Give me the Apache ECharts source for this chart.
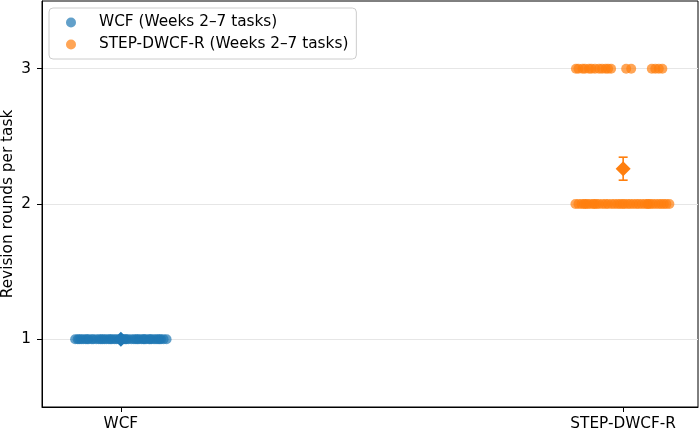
<!DOCTYPE html>
<html>
<head>
<meta charset="utf-8">
<title>Revision rounds per task</title>
<style>
    body { margin: 0; }
    #main { width: 700px; height: 434px; }
</style>
</head>
<body>
<div id="main"></div>
<script src="https://cdn.jsdelivr.net/npm/echarts@6/dist/echarts.min.js"></script>
<script>
    var groups = ['WCF', 'STEP-DWCF-R'];
    var legendNames = ['WCF (Weeks 2–7 tasks)', 'STEP-DWCF-R (Weeks 2–7 tasks)'];
    var colors = ['#1f77b4', '#ff7f0e'];
    var yTicks = [1, 2, 3];

    // strip plot: horizontal jitter offset and revision rounds per task
    var wcfOffsets = [-0.091, -0.086, -0.079, -0.075, -0.070, -0.064, -0.058, -0.055, -0.049, -0.044,
        -0.040, -0.033, -0.029, -0.024, -0.018, -0.013, -0.009, -0.004, 0.002, 0.006,
        0.011, 0.015, 0.021, 0.026, 0.030, 0.036, 0.041, 0.045, 0.050, 0.056,
        0.061, 0.066, 0.070, 0.074, 0.080, 0.085, 0.091, -0.067, -0.037, 0.009,
        0.033, 0.058, -0.083, 0.077, -0.021, 0.047];
    var wcfRounds = [1, 1, 1, 1, 1, 1, 1, 1, 1, 1,
        1, 1, 1, 1, 1, 1, 1, 1, 1, 1,
        1, 1, 1, 1, 1, 1, 1, 1, 1, 1,
        1, 1, 1, 1, 1, 1, 1, 1, 1, 1,
        1, 1, 1, 1, 1, 1];

    var stepOffsets = [-0.095, -0.089, -0.083, -0.078, -0.071, -0.066, -0.060, -0.053, -0.048, -0.041,
        -0.035, -0.030, -0.023, -0.017, -0.011, -0.006, 0.003, 0.009, 0.014, 0.020,
        0.026, 0.031, 0.037, 0.043, 0.048, 0.054, 0.059, 0.065, 0.071, 0.076,
        0.081, 0.086, 0.092, -0.057, -0.001, 0.050, -0.075,
        -0.094, -0.089, -0.081, -0.076, -0.068, -0.063, -0.056, -0.048, -0.042, -0.035,
        -0.030, -0.024, 0.006, 0.016, 0.057, 0.064, 0.071, 0.078];
    var stepRounds = [2, 2, 2, 2, 2, 2, 2, 2, 2, 2,
        2, 2, 2, 2, 2, 2, 2, 2, 2, 2,
        2, 2, 2, 2, 2, 2, 2, 2, 2, 2,
        2, 2, 2, 2, 2, 2, 2,
        3, 3, 3, 3, 3, 3, 3, 3, 3, 3,
        3, 3, 3, 3, 3, 3, 3, 3];

    // group mean with error bar
    var meanRounds = [1.0, 2.26];
    var ciLow = [1.0, 2.176];
    var ciHigh = [1.0, 2.346];

    function stripData(groupIndex, offsets, rounds) {
        return offsets.map(function (o, i) {
            return [groupIndex + o, rounds[i]];
        });
    }

    var font = 'DejaVu Sans';
    var fs = 15.3;
    var chart = echarts.init(document.getElementById('main'));

    chart.setOption({
        animation: false,
        textStyle: { fontFamily: font },
        grid: {
            left: 42,
            right: 2,
            top: 1,
            bottom: 27,
            outerBoundsMode: 'none',
            show: true,
            borderColor: '#000',
            borderWidth: 1
        },
        legend: {
            orient: 'vertical',
            left: 49,
            top: 8,
            padding: [6, 8, 6, 17],
            itemWidth: 10,
            itemHeight: 10,
            itemGap: 5,
            backgroundColor: 'rgba(255,255,255,0.8)',
            borderColor: '#cccccc',
            borderWidth: 1,
            borderRadius: 4,
            data: legendNames,
            textStyle: {
                fontFamily: font,
                fontSize: fs,
                color: '#000',
                lineHeight: 17,
                padding: [0, 0, 0, 18]
            }
        },
        xAxis: {
            type: 'value',
            min: -0.157,
            max: 1.149,
            axisLine: { show: true, onZero: false, lineStyle: { color: '#000' } },
            axisTick: { show: true, customValues: [0, 1], length: 5, lineStyle: { color: '#000' } },
            axisLabel: {
                customValues: [0, 1],
                formatter: function (v) { return groups[Math.round(v)]; },
                fontFamily: font,
                fontSize: fs,
                color: '#000',
                margin: 10
            },
            splitLine: { show: false }
        },
        yAxis: {
            type: 'value',
            min: 0.5,
            max: 3.5,
            name: 'Revision rounds per task',
            nameLocation: 'middle',
            nameGap: 26,
            nameMoveOverlap: false,
            nameTextStyle: { fontFamily: font, fontSize: fs, color: '#000' },
            axisLine: { show: true, onZero: false, lineStyle: { color: '#000' } },
            axisTick: { show: true, customValues: yTicks, length: 5, lineStyle: { color: '#000' } },
            axisLabel: {
                customValues: yTicks,
                fontFamily: font,
                fontSize: fs,
                color: '#000',
                margin: 11
            },
            splitLine: { show: true, lineStyle: { color: '#e6e6e6', width: 1 } }
        },
        series: [
            {
                name: legendNames[0],
                type: 'scatter',
                symbol: 'circle',
                symbolSize: 10,
                itemStyle: { color: colors[0], opacity: 0.7 },
                data: stripData(0, wcfOffsets, wcfRounds),
                z: 2
            },
            {
                name: legendNames[1],
                type: 'scatter',
                symbol: 'circle',
                symbolSize: 10,
                itemStyle: { color: colors[1], opacity: 0.7 },
                data: stripData(1, stepOffsets, stepRounds),
                z: 2
            },
            {
                // error bars
                type: 'custom',
                z: 3,
                renderItem: function (params, api) {
                    var x = api.value(0);
                    var lo = api.coord([x, api.value(1)]);
                    var hi = api.coord([x, api.value(2)]);
                    var c = colors[params.dataIndex];
                    var st = { stroke: c, lineWidth: 1.6 };
                    return {
                        type: 'group',
                        children: [
                            { type: 'line', shape: { x1: lo[0], y1: lo[1], x2: hi[0], y2: hi[1] }, style: st },
                            { type: 'line', shape: { x1: lo[0] - 4.5, y1: lo[1], x2: lo[0] + 4.5, y2: lo[1] }, style: st },
                            { type: 'line', shape: { x1: hi[0] - 4.5, y1: hi[1], x2: hi[0] + 4.5, y2: hi[1] }, style: st }
                        ]
                    };
                },
                data: groups.map(function (g, i) { return [i, ciLow[i], ciHigh[i]]; })
            },
            {
                // group means
                type: 'scatter',
                symbol: 'diamond',
                symbolSize: 15,
                z: 4,
                data: groups.map(function (g, i) {
                    return { value: [i, meanRounds[i]], itemStyle: { color: colors[i], opacity: 1 } };
                })
            }
        ]
    });
</script>
</body>
</html>
